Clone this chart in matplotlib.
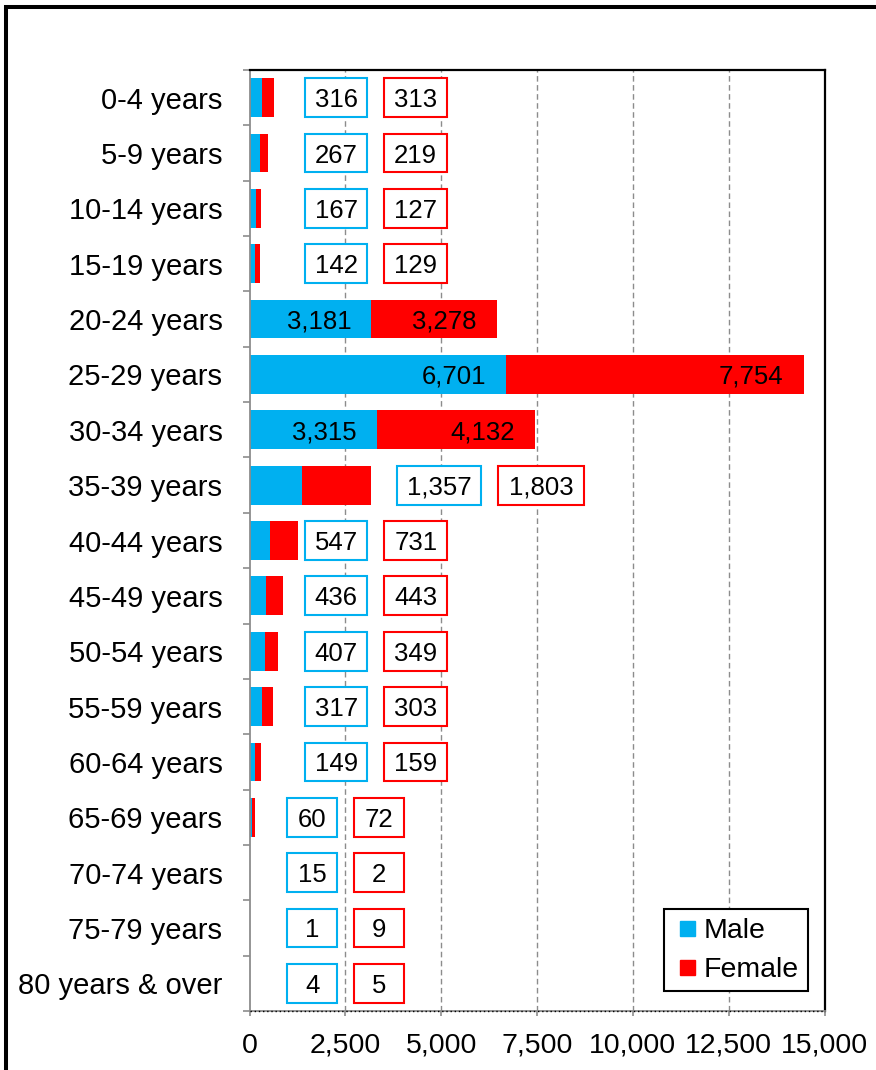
import matplotlib
matplotlib.use("Agg")
import matplotlib.pyplot as plt
from matplotlib.patches import Rectangle
from matplotlib.lines import Line2D
from matplotlib.ticker import FuncFormatter, MultipleLocator, FixedLocator

plt.rcParams['font.family'] = ['Liberation Sans', 'DejaVu Sans']

ages = ['0-4 years', '5-9 years', '10-14 years', '15-19 years', '20-24 years',
        '25-29 years', '30-34 years', '35-39 years', '40-44 years', '45-49 years',
        '50-54 years', '55-59 years', '60-64 years', '65-69 years', '70-74 years',
        '75-79 years', '80 years & over']
male = [316, 267, 167, 142, 3181, 6701, 3315, 1357, 547, 436, 407, 317, 149, 60, 15, 1, 4]
female = [313, 219, 127, 129, 3278, 7754, 4132, 1803, 731, 443, 349, 303, 159, 72, 2, 9, 5]

blue = '#00B0F0'
red = '#FF0000'
grey = '#8C8C8C'

fig = plt.figure(figsize=(8.76, 10.70), dpi=100)
ax = fig.add_axes([249.5/876, 59/1070, 575/876, 941/1070])

y = list(range(len(ages)))
bh = 0.7
ax.barh(y, male, height=bh, color=blue, zorder=2, label='Male')
ax.barh(y, female, left=male, height=bh, color=red, zorder=2, label='Female')

# labels: inside end for the big bars, boxed beside the bar for the rest
inside_rows = {4, 5, 6}

def box_spans(i):
    if i == 7:
        return (3854, 6042), (6484, 8724)
    if i >= 13:
        return (990, 2292), (2734, 4036)
    return (1458, 3073), (3516, 5156)

for i in y:
    m, f = male[i], female[i]
    if i in inside_rows:
        for end, v in ((m, m), (m + f, f)):
            ax.annotate(f'{v:,}', (end, i), xytext=(-14.5, 0), textcoords='offset points',
                        ha='right', va='center_baseline', fontsize=18.5, zorder=4)
        continue
    for (x0, x1), v, c in zip(box_spans(i), (m, f), (blue, red)):
        ax.add_patch(Rectangle((x0, i - bh/2), x1 - x0, bh, facecolor='white',
                               edgecolor=c, lw=1.5, zorder=3))
        ax.text((x0 + x1)/2, i, f'{v:,}', ha='center', va='center_baseline',
                fontsize=18.5, zorder=4)

ax.set_xlim(0, 15000)
ax.set_ylim(len(ages) - 0.5, -0.5)

ax.xaxis.set_major_locator(MultipleLocator(2500))
ax.xaxis.set_major_formatter(FuncFormatter(lambda v, p: f'{int(v):,}'))
ax.tick_params(axis='x', length=3.6, width=1.2, color=grey, pad=12, labelsize=20.5)

ax.set_yticks(y)
ax.set_yticklabels(ages)
ax.yaxis.set_minor_locator(FixedLocator([k - 0.5 for k in range(len(ages) + 1)]))
ax.tick_params(axis='y', which='major', length=0, pad=19.5, labelsize=21)
ax.tick_params(axis='y', which='minor', length=5, width=1.2, color=grey)

for gx in range(2500, 15000, 2500):
    ax.axvline(gx, color=grey, lw=1.0, ls=(0, (4, 2.5)), zorder=1)

for s in ('left', 'bottom'):
    ax.spines[s].set_color(grey)
    ax.spines[s].set_linewidth(1.3)
for s in ('top', 'right'):
    ax.spines[s].set_color('black')
    ax.spines[s].set_linewidth(1.6)
ax.plot([0, 1], [0, 0], transform=ax.transAxes, color='black', lw=1.0,
        ls=(0, (1, 2)), clip_on=False, zorder=5)

handles = [Line2D([], [], ls='none', marker='s', markersize=10.8, color=blue),
           Line2D([], [], ls='none', marker='s', markersize=10.8, color=red)]
leg = ax.legend(handles, ['Male', 'Female'], loc='lower right',
                bbox_to_anchor=(0.9705, 0.021), borderaxespad=0, fontsize=20.5,
                fancybox=False, framealpha=1, edgecolor='black', handlelength=1.0,
                handletextpad=0.1, borderpad=0.3, labelspacing=0.45)
leg.get_frame().set_linewidth(1.5)
leg.set_zorder(6)

# outer chart border (left and top edges show in the frame)
fig.add_artist(Rectangle((6.3/876, -0.05), 1.1, 1.05 - 7.2/1070, fill=False,
                         edgecolor='black', lw=2.9, transform=fig.transFigure,
                         clip_on=False))

fig.savefig('out.png', dpi=100)
